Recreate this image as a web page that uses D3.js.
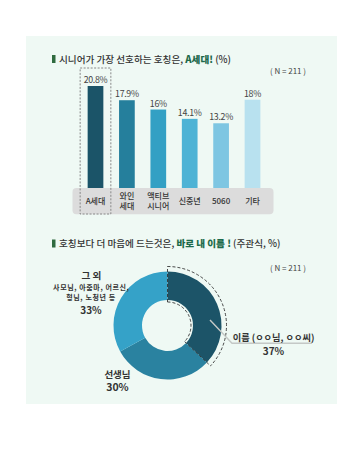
<!DOCTYPE html>
<html><head><meta charset="utf-8">
<script src="https://cdn.jsdelivr.net/npm/d3@7"></script>
<style>html,body{margin:0;padding:0;background:#fff;}svg{display:block;font-family:"Noto Sans CJK KR","Noto Sans",sans-serif;}</style>
</head><body>
<svg id="c" width="360" height="454"></svg>
<script>
// ---- data ----
const barCategories = [["A세대"],["와인","세대"],["액티브","시니어"],["신중년"],["5060"],["기타"]];
const barValues = [20.8, 17.9, 16, 14.1, 13.2, 18];
const barLabels = ["20.8%","17.9%","16%","14.1%","13.2%","18%"];
const barColors = ["#1b5468","#257f9c","#33a0c4","#4eb3d5","#7ec6e2","#b8e1ef"];

const pieCategories = ["이름","선생님","그 외"];
const pieValues = [37, 30, 33];
const pieColors = ["#1c5468","#2a82a0","#35a2c8"];
const otherDetail = ["사모님, 아줌마, 어르신,","형님, 노청년 등"];

const title1 = ["시니어가 가장 선호하는 호칭은, ","A세대!"," (%)"];
const title2 = ["호칭보다 더 마음에 드는것은, ","바로 내 이름 !"," (주관식, %)"];
const nLabel = "( N = 211 )";

const svg = d3.select("#c");
const green = "#1d6a4b";

// panel
svg.append("rect").attr("x",26).attr("y",36).attr("width",311).attr("height",368).attr("fill","#eff9f4");

function title(y, parts){
  svg.append("rect").attr("x",52).attr("y",y-7.5).attr("width",3.5).attr("height",8).attr("fill","#2f6b3f");
  const t = svg.append("text").attr("x",59).attr("y",y).attr("font-size",9.6).attr("fill","#333").attr("font-weight",500);
  t.append("tspan").text(parts[0]);
  t.append("tspan").attr("font-weight",800).attr("fill",green).text(parts[1]);
  t.append("tspan").text(parts[2]);
}
title(62.5, title1);
title(247, title2);

svg.append("text").attr("x",288).attr("y",74).attr("text-anchor","middle").attr("font-size",8).attr("fill","#444").text(nLabel);
svg.append("text").attr("x",288).attr("y",271).attr("text-anchor","middle").attr("font-size",8).attr("fill","#444").text(nLabel);

// ---- bar chart ----
const x = d3.scaleBand().domain(d3.range(barValues.length)).range([79.8, 268.2]).paddingInner(0.5).paddingOuter(0.25);
const y = d3.scaleLinear().domain([0, 20.8]).range([188, 86]);

// gray category box
svg.append("rect").attr("x",72.5).attr("y",188).attr("width",201).attr("height",26.3).attr("rx",4).attr("fill","#dcdcdc");

svg.selectAll("rect.bar").data(barValues).join("rect").attr("class","bar")
  .attr("x",(d,i)=>x(i)).attr("width",x.bandwidth())
  .attr("y",d=>y(d)).attr("height",d=>y(0)-y(d))
  .attr("fill",(d,i)=>barColors[i]);

svg.selectAll("text.val").data(barValues).join("text").attr("class","val")
  .attr("x",(d,i)=>x(i)+x.bandwidth()/2).attr("y",d=>y(d)-2.8)
  .attr("text-anchor","middle").attr("font-size",8.8).attr("fill","#444")
  .attr("letter-spacing",-0.3)
  .text((d,i)=>barLabels[i]);

barCategories.forEach((lines,i)=>{
  const cx = x(i)+x.bandwidth()/2;
  const t = svg.append("text").attr("text-anchor","middle")
    .attr("font-size",8).attr("font-weight",500).attr("fill","#333");
  if(lines.length===1){
    t.append("tspan").attr("x",cx).attr("y",204).text(lines[0]);
  } else {
    t.append("tspan").attr("x",cx).attr("y",199).text(lines[0]);
    t.append("tspan").attr("x",cx).attr("y",208.8).text(lines[1]);
  }
});

// highlight dashed box
svg.append("rect").attr("x",x(0)-7.5).attr("y",68).attr("width",x.bandwidth()+15).attr("height",146)
  .attr("fill","none").attr("stroke","#888").attr("stroke-width",1).attr("stroke-dasharray","2,1.5");

// ---- donut ----
const cx = 167.5, cy = 325.5, r0 = 25.5, r1 = 54;
const g = svg.append("g").attr("transform",`translate(${cx},${cy})`);
const pie = d3.pie().sort(null).value(d=>d)(pieValues);
const arc = d3.arc().innerRadius(r0).outerRadius(r1);
g.selectAll("path.slice").data(pie).join("path").attr("class","slice").attr("d",arc).attr("fill",(d,i)=>pieColors[i]);

// leader line
svg.append("path").attr("d",d3.line()([[210,320],[232,343.3],[312,343.3]]))
  .attr("fill","none").attr("stroke","#c4c8c6").attr("stroke-width",1.4);

// dashed highlight for first slice
const a0 = pie[0].startAngle, a1 = pie[0].endAngle;
const pOuter = d3.path(); pOuter.arc(0,0,59,a0-Math.PI/2,a1-Math.PI/2);
const pInner = d3.path(); pInner.arc(0,0,23.5,a0-Math.PI/2,a1-Math.PI/2);
const dash = s=>s.attr("fill","none").attr("stroke","#333").attr("stroke-width",0.9).attr("stroke-dasharray","3,2");
dash(g.append("path").attr("d",pOuter.toString()));
dash(g.append("path").attr("d",pInner.toString()));
dash(g.append("path").attr("d",d3.line()([d3.pointRadial(a0,23.5),d3.pointRadial(a0,59)])));
dash(g.append("path").attr("d",d3.line()([d3.pointRadial(a1,23.5),d3.pointRadial(a1,59)])));

// donut labels
function lbl(xp,yp,txt,size,weight){
  return svg.append("text").attr("x",xp).attr("y",yp).attr("text-anchor","middle").attr("font-size",size)
    .attr("font-weight",weight).attr("fill","#333").text(txt);
}
svg.append("text").attr("x",232.7).attr("y",341).attr("font-size",9.2).attr("font-weight",700).attr("fill","#333").text("이름 (ㅇㅇ님, ㅇㅇ씨)");
lbl(273.5,354.5,pieValues[0]+"%",10,700);

// "그 외" block
lbl(91.5,279,pieCategories[2],9.6,700);
lbl(91.3,290,otherDetail[0],7,700).attr("letter-spacing",0.6);
lbl(91,300.3,otherDetail[1],7,700).attr("letter-spacing",0.6);
lbl(91,313.8,pieValues[2]+"%",10,700);

lbl(117.5,377.5,pieCategories[1],9.5,700);
lbl(117.5,391,pieValues[1]+"%",10.5,700);
</script>
</body></html>
